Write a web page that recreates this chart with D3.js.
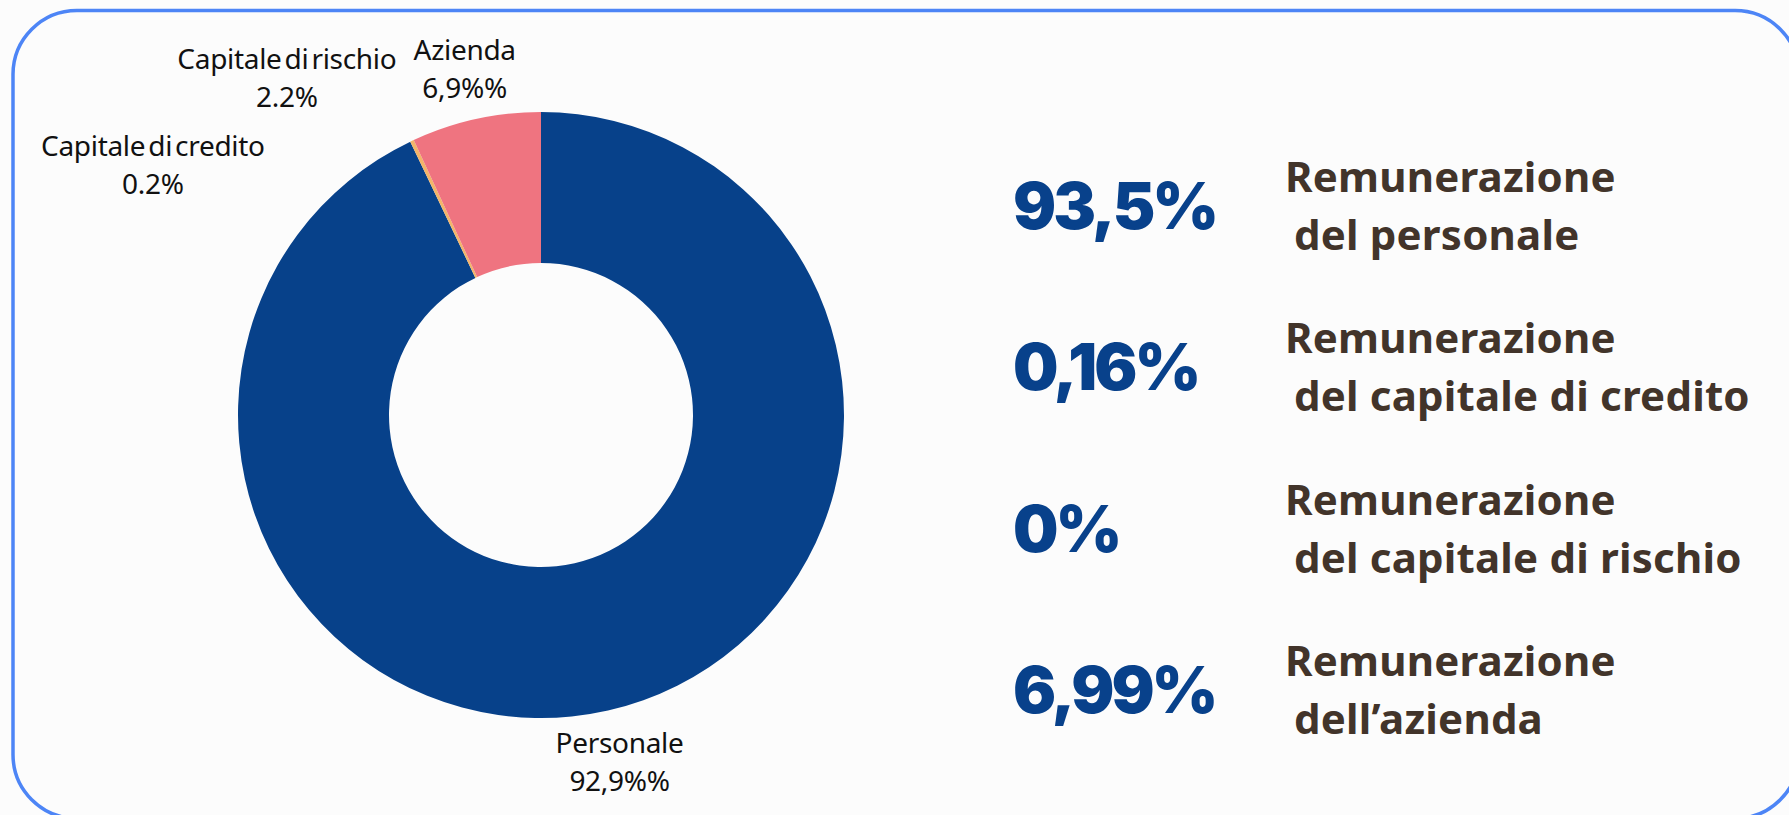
<!DOCTYPE html>
<html>
<head>
<meta charset="utf-8">
<script src="https://cdn.jsdelivr.net/npm/d3@7"></script>
<style>
    html, body { margin: 0; padding: 0; background: #fcfcfc; }
    svg { display: block; }
    .slice-label { font-family: "Noto Sans", sans-serif; font-size: 28px; fill: #111; letter-spacing: -0.3px; word-spacing: -4px; }
    .big-value { font-family: Inter, "Noto Sans", sans-serif; font-weight: 900; font-size: 64px; fill: #08418b; letter-spacing: -3px; }
    .caption { font-family: "Noto Sans", sans-serif; font-weight: 700; font-size: 42px; fill: #42342a; letter-spacing: 0.2px; }
</style>
</head>
<body>
<div id="chart"></div>
<script>
// pie data
const categories = ["Personale", "Capitale di credito", "Capitale di rischio", "Azienda"];
const shares = [92.9, 0.2, 0, 6.9];
const shareLabels = ["92,9%%", "0.2%", "2.2%", "6,9%%"];
const sliceColors = ["#07418a", "#f3b56a", "#8ac6d1", "#ef7480"];

// summary on the right
const summaryValues = ["93,5%", "0,16%", "0%", "6,99%"];
const summaryTitles = ["Remunerazione", "Remunerazione", "Remunerazione", "Remunerazione"];
const summarySubtitles = ["del personale", "del capitale di credito", "del capitale di rischio", "dell\u2019azienda"];

const width = 1789;
const height = 815;

const svg = d3.select("#chart").append("svg")
    .attr("width", width)
    .attr("height", height);

// card frame
svg.append("rect")
    .attr("x", 13)
    .attr("y", 10.5)
    .attr("width", 1786)
    .attr("height", 808)
    .attr("rx", 64)
    .attr("fill", "#fcfcfc")
    .attr("stroke", "#4d85f6")
    .attr("stroke-width", 3.5);

// donut
const cx = 541, cy = 415;
const outerR = 303, innerR = 152;

const data = categories.map((c, i) => ({name: c, value: shares[i], label: shareLabels[i], color: sliceColors[i]}));

const pie = d3.pie()
    .sort(null)
    .value(d => d.value);

const arc = d3.arc()
    .innerRadius(innerR)
    .outerRadius(outerR);

const labelArc = d3.arc()
    .innerRadius(355)
    .outerRadius(355);

// labels that would collide get moved off their centroid
const labelShift = {
    "Capitale di credito": [-237, 70],
    "Capitale di rischio": [-105, -16]
};

const g = svg.append("g")
    .attr("transform", "translate(" + cx + "," + cy + ")");

const arcs = pie(data);

g.selectAll("path.slice")
    .data(arcs)
    .enter().append("path")
    .attr("class", "slice")
    .attr("d", arc)
    .attr("fill", d => d.data.color);

const labels = g.selectAll("text.slice-label")
    .data(arcs)
    .enter().append("text")
    .attr("class", "slice-label")
    .attr("text-anchor", "middle")
    .attr("transform", d => {
        const c = labelArc.centroid(d);
        const s = labelShift[d.data.name] || [0, 0];
        return "translate(" + (c[0] + s[0]) + "," + (c[1] + s[1]) + ")";
    });

labels.append("tspan")
    .attr("x", 0)
    .attr("y", -8)
    .text(d => d.data.name);

labels.append("tspan")
    .attr("x", 0)
    .attr("y", 30)
    .text(d => d.data.label);

// right-hand summary
const rowY = d3.scalePoint()
    .domain(d3.range(summaryValues.length))
    .range([229, 713]);

const rows = svg.selectAll("g.row")
    .data(summaryValues)
    .enter().append("g")
    .attr("class", "row")
    .attr("transform", (d, i) => "translate(0," + rowY(i) + ")");

rows.append("text")
    .attr("class", "big-value")
    .attr("x", 1013)
    .attr("y", 0)
    .text(d => d);

rows.append("text")
    .attr("class", "caption")
    .attr("x", 1285)
    .attr("y", -37)
    .text((d, i) => summaryTitles[i]);

rows.append("text")
    .attr("class", "caption")
    .attr("x", 1294)
    .attr("y", 21)
    .text((d, i) => summarySubtitles[i]);
</script>
</body>
</html>
